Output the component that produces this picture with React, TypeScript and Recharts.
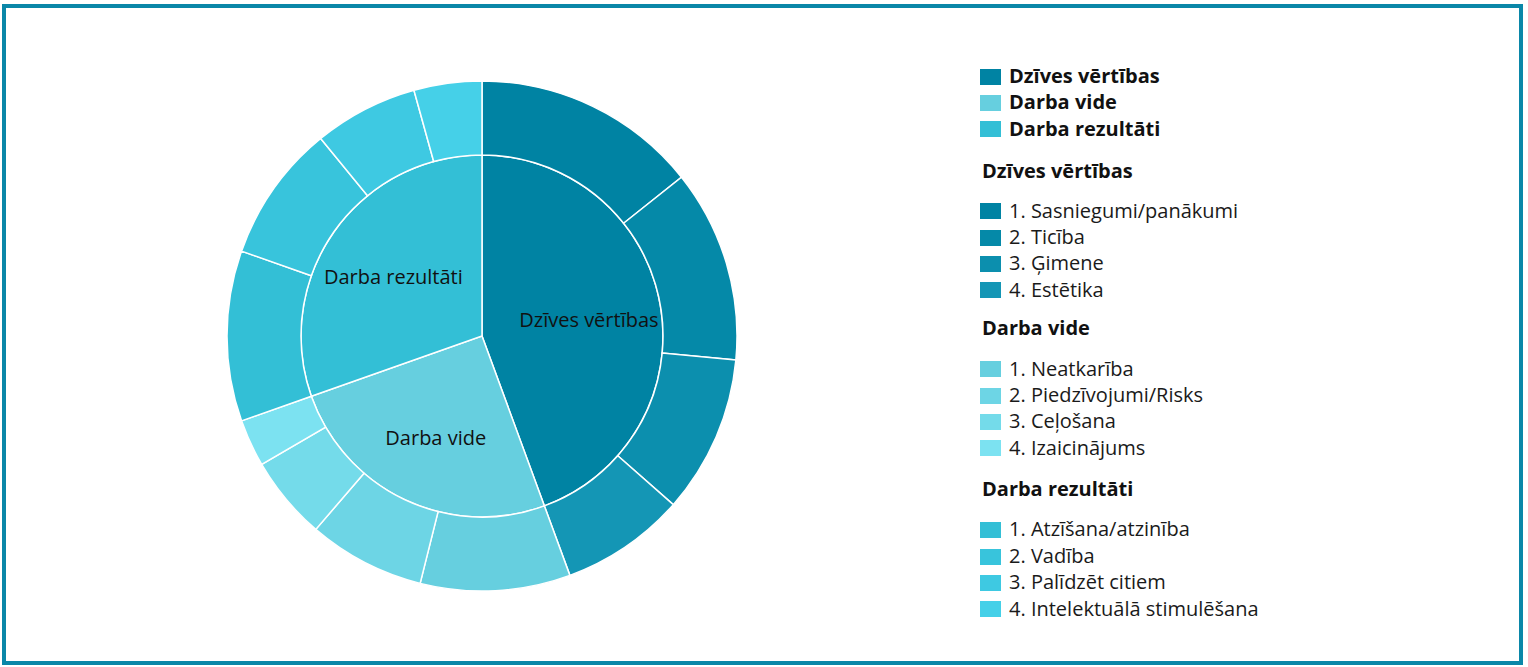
import { PieChart, Pie, Cell, Legend } from 'recharts';

// Main groups (inner pie)
const groups = ['Dzīves vērtības', 'Darba vide', 'Darba rezultāti'];
const groupValues = [44.4, 25.2, 30.4];

// Sub items (outer ring), in the same order as the groups
const dzivesItems = ['1. Sasniegumi/panākumi', '2. Ticība', '3. Ģimene', '4. Estētika'];
const dzivesValues = [14.3, 12.2, 10.0, 7.9];
const videItems = ['1. Neatkarība', '2. Piedzīvojumi/Risks', '3. Ceļošana', '4. Izaicinājums'];
const videValues = [9.5, 7.4, 5.3, 3.0];
const rezultatiItems = ['1. Atzīšana/atzinība', '2. Vadība', '3. Palīdzēt citiem', '4. Intelektuālā stimulēšana'];
const rezultatiValues = [10.8, 8.7, 6.6, 4.3];

// Colors
const GROUP_COLORS = ['#0083a3', '#66cfdf', '#33bfd6'];
const SUB_COLORS = [
    ['#0083a3', '#0589a8', '#0c8fae', '#1496b5'],
    ['#66cfdf', '#6dd5e5', '#74dbea', '#7ce2f1'],
    ['#33bfd6', '#38c4dc', '#3ec9e2', '#45d0e8'],
];

const FONT = '"Open Sans", sans-serif';
const RAD = Math.PI / 180;

const innerData = groups.map((name, i) => ({ name, value: groupValues[i] }));
const subLists = [
    { items: dzivesItems, values: dzivesValues },
    { items: videItems, values: videValues },
    { items: rezultatiItems, values: rezultatiValues },
];
const outerData = subLists.flatMap((g, gi) =>
    g.items.map((name, i) => ({ name, value: g.values[i], color: SUB_COLORS[gi][i] }))
);

function renderInnerLabel(props: any) {
    const { cx, cy, midAngle, outerRadius, name } = props;
    const r = outerRadius * 0.6;
    const x = cx + r * Math.cos(-midAngle * RAD);
    const y = cy + r * Math.sin(-midAngle * RAD) + 3;
    return (
        <text x={x} y={y} textAnchor="middle" dominantBaseline="central"
            fill="#111" fontSize={20} fontFamily={FONT}>
            {name}
        </text>
    );
}

const Swatch = ({ color }: { color: string }) => (
    <span style={{ display: 'inline-block', width: 21, height: 16, background: color, marginRight: 8, verticalAlign: 'middle', position: 'relative', top: -1 }} />
);

function CustomLegend() {
    const row = { height: 26.4, lineHeight: '26.4px', whiteSpace: 'nowrap' as const };
    // [marginTop, marginBottom] for each group heading
    const headingMargins = [[16, 13], [12, 14], [15, 14]];
    return (
        <div style={{ fontFamily: FONT, fontSize: 20, color: '#1a1a1a' }}>
            {groups.map((g, i) => (
                <div key={g} style={{ ...row, fontWeight: 700, color: '#111' }}>
                    <Swatch color={GROUP_COLORS[i]} />{g}
                </div>
            ))}
            {subLists.map((sl, gi) => (
                <div key={groups[gi]}>
                    <div style={{ ...row, fontWeight: 700, color: '#111', marginTop: headingMargins[gi][0], marginBottom: headingMargins[gi][1], paddingLeft: 2 }}>
                        {groups[gi]}
                    </div>
                    {sl.items.map((it, i) => (
                        <div key={it} style={row}>
                            <Swatch color={SUB_COLORS[gi][i]} />{it}
                        </div>
                    ))}
                </div>
            ))}
        </div>
    );
}

export default function App() {
    return (
        <div style={{ position: 'absolute', left: 0, top: 0, width: 1528, height: 667, background: '#fff' }}>
            <div style={{ position: 'absolute', left: 2, top: 4, width: 1521, height: 661, border: '4px solid #0a87a8', boxSizing: 'border-box' }} />
            <div style={{ position: 'absolute', left: 0, top: 0 }}>
                <PieChart width={1528} height={667} margin={{ top: 0, right: 0, bottom: 0, left: 0 }}>
                    <Pie
                        data={innerData}
                        dataKey="value"
                        nameKey="name"
                        cx={482}
                        cy={336}
                        innerRadius={0}
                        outerRadius={181}
                        startAngle={90}
                        endAngle={-270}
                        stroke="#fff"
                        strokeWidth={1.5}
                        label={renderInnerLabel}
                        labelLine={false}
                        isAnimationActive={false}
                    >
                        {innerData.map((d, i) => (
                            <Cell key={d.name} fill={GROUP_COLORS[i]} />
                        ))}
                    </Pie>
                    <Pie
                        data={outerData}
                        dataKey="value"
                        nameKey="name"
                        cx={482}
                        cy={336}
                        innerRadius={181}
                        outerRadius={255}
                        startAngle={90}
                        endAngle={-270}
                        stroke="#fff"
                        strokeWidth={1.5}
                        isAnimationActive={false}
                    >
                        {outerData.map((d) => (
                            <Cell key={d.name} fill={d.color} />
                        ))}
                    </Pie>
                    <Legend
                        content={<CustomLegend />}
                        wrapperStyle={{ position: 'absolute', left: 980, top: 63, width: 400, bottom: 'auto' }}
                    />
                </PieChart>
            </div>
        </div>
    );
}
